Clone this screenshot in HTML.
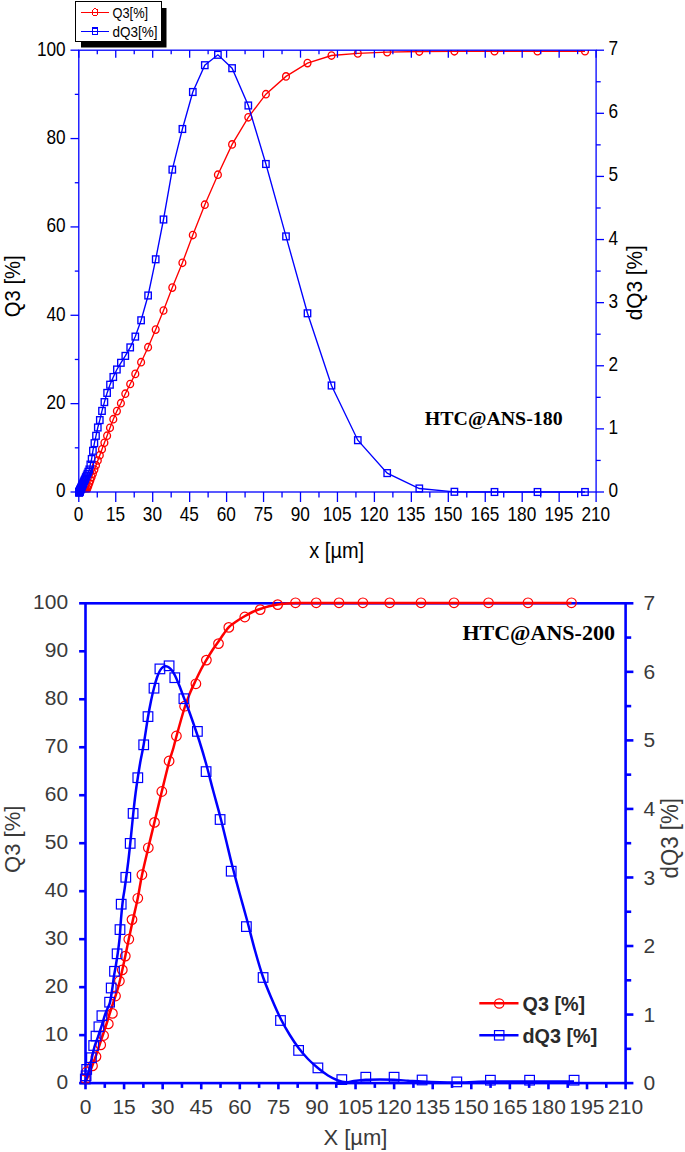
<!DOCTYPE html>
<html><head><meta charset="utf-8"><title>Chart</title>
<style>html,body{margin:0;padding:0;background:#fff;}svg{display:block;}</style></head>
<body>
<svg width="685" height="1152" viewBox="0 0 685 1152">
<rect width="685" height="1152" fill="#fff"/>
<defs><clipPath id="c1"><rect x="78.8" y="49.90" width="517.3000000000001" height="442.40"/></clipPath></defs>
<g clip-path="url(#c1)">
<polyline fill="none" stroke="#ff0000" stroke-width="1.35" points="79.1,492.3 79.2,492.3 79.2,492.3 79.2,492.3 79.3,492.3 79.3,492.3 79.4,492.3 79.4,492.3 79.5,492.2 79.6,492.2 79.7,492.2 79.8,492.2 79.9,492.2 80.0,492.2 80.1,492.2 80.2,492.2 80.4,492.2 80.5,492.2 80.7,492.2 80.9,492.1 81.2,492.1 81.4,492.1 81.7,492.1 82.0,492.1 82.3,492.0 82.7,492.0 83.1,492.0 83.5,491.8 84.0,491.7 84.6,491.5 85.2,491.3 85.8,491.1 86.6,490.5 87.4,488.3 88.3,485.9 89.3,483.3 90.3,480.4 91.6,477.1 92.9,473.6 94.4,469.6 96.0,465.3 97.8,460.5 99.8,455.2 102.0,449.3 104.4,442.8 107.1,435.7 110.0,427.8 113.3,419.2 116.9,411.1 120.9,403.2 125.3,393.7 130.2,384.0 135.3,373.9 141.1,362.2 148.1,347.2 155.7,329.6 163.5,310.5 172.3,287.6 182.4,262.8 192.8,235.0 204.8,204.7 217.9,174.7 232.1,144.4 248.3,117.3 265.9,94.2 286.0,76.4 307.5,63.1 331.5,55.5 357.8,53.4 387.2,52.2 419.3,51.5 454.4,51.3 494.5,51.2 537.5,51.2 585.0,51.2"/>
<ellipse cx="79.1" cy="492.3" rx="3.4" ry="3.7" fill="none" stroke="#ff0000" stroke-width="1.35"/>
<ellipse cx="79.2" cy="492.3" rx="3.4" ry="3.7" fill="none" stroke="#ff0000" stroke-width="1.35"/>
<ellipse cx="79.2" cy="492.3" rx="3.4" ry="3.7" fill="none" stroke="#ff0000" stroke-width="1.35"/>
<ellipse cx="79.2" cy="492.3" rx="3.4" ry="3.7" fill="none" stroke="#ff0000" stroke-width="1.35"/>
<ellipse cx="79.3" cy="492.3" rx="3.4" ry="3.7" fill="none" stroke="#ff0000" stroke-width="1.35"/>
<ellipse cx="79.3" cy="492.3" rx="3.4" ry="3.7" fill="none" stroke="#ff0000" stroke-width="1.35"/>
<ellipse cx="79.4" cy="492.3" rx="3.4" ry="3.7" fill="none" stroke="#ff0000" stroke-width="1.35"/>
<ellipse cx="79.4" cy="492.3" rx="3.4" ry="3.7" fill="none" stroke="#ff0000" stroke-width="1.35"/>
<ellipse cx="79.5" cy="492.2" rx="3.4" ry="3.7" fill="none" stroke="#ff0000" stroke-width="1.35"/>
<ellipse cx="79.6" cy="492.2" rx="3.4" ry="3.7" fill="none" stroke="#ff0000" stroke-width="1.35"/>
<ellipse cx="79.7" cy="492.2" rx="3.4" ry="3.7" fill="none" stroke="#ff0000" stroke-width="1.35"/>
<ellipse cx="79.8" cy="492.2" rx="3.4" ry="3.7" fill="none" stroke="#ff0000" stroke-width="1.35"/>
<ellipse cx="79.9" cy="492.2" rx="3.4" ry="3.7" fill="none" stroke="#ff0000" stroke-width="1.35"/>
<ellipse cx="80.0" cy="492.2" rx="3.4" ry="3.7" fill="none" stroke="#ff0000" stroke-width="1.35"/>
<ellipse cx="80.1" cy="492.2" rx="3.4" ry="3.7" fill="none" stroke="#ff0000" stroke-width="1.35"/>
<ellipse cx="80.2" cy="492.2" rx="3.4" ry="3.7" fill="none" stroke="#ff0000" stroke-width="1.35"/>
<ellipse cx="80.4" cy="492.2" rx="3.4" ry="3.7" fill="none" stroke="#ff0000" stroke-width="1.35"/>
<ellipse cx="80.5" cy="492.2" rx="3.4" ry="3.7" fill="none" stroke="#ff0000" stroke-width="1.35"/>
<ellipse cx="80.7" cy="492.2" rx="3.4" ry="3.7" fill="none" stroke="#ff0000" stroke-width="1.35"/>
<ellipse cx="80.9" cy="492.1" rx="3.4" ry="3.7" fill="none" stroke="#ff0000" stroke-width="1.35"/>
<ellipse cx="81.2" cy="492.1" rx="3.4" ry="3.7" fill="none" stroke="#ff0000" stroke-width="1.35"/>
<ellipse cx="81.4" cy="492.1" rx="3.4" ry="3.7" fill="none" stroke="#ff0000" stroke-width="1.35"/>
<ellipse cx="81.7" cy="492.1" rx="3.4" ry="3.7" fill="none" stroke="#ff0000" stroke-width="1.35"/>
<ellipse cx="82.0" cy="492.1" rx="3.4" ry="3.7" fill="none" stroke="#ff0000" stroke-width="1.35"/>
<ellipse cx="82.3" cy="492.0" rx="3.4" ry="3.7" fill="none" stroke="#ff0000" stroke-width="1.35"/>
<ellipse cx="82.7" cy="492.0" rx="3.4" ry="3.7" fill="none" stroke="#ff0000" stroke-width="1.35"/>
<ellipse cx="83.1" cy="492.0" rx="3.4" ry="3.7" fill="none" stroke="#ff0000" stroke-width="1.35"/>
<ellipse cx="83.5" cy="491.8" rx="3.4" ry="3.7" fill="none" stroke="#ff0000" stroke-width="1.35"/>
<ellipse cx="84.0" cy="491.7" rx="3.4" ry="3.7" fill="none" stroke="#ff0000" stroke-width="1.35"/>
<ellipse cx="84.6" cy="491.5" rx="3.4" ry="3.7" fill="none" stroke="#ff0000" stroke-width="1.35"/>
<ellipse cx="85.2" cy="491.3" rx="3.4" ry="3.7" fill="none" stroke="#ff0000" stroke-width="1.35"/>
<ellipse cx="85.8" cy="491.1" rx="3.4" ry="3.7" fill="none" stroke="#ff0000" stroke-width="1.35"/>
<ellipse cx="86.6" cy="490.5" rx="3.4" ry="3.7" fill="none" stroke="#ff0000" stroke-width="1.35"/>
<ellipse cx="87.4" cy="488.3" rx="3.4" ry="3.7" fill="none" stroke="#ff0000" stroke-width="1.35"/>
<ellipse cx="88.3" cy="485.9" rx="3.4" ry="3.7" fill="none" stroke="#ff0000" stroke-width="1.35"/>
<ellipse cx="89.3" cy="483.3" rx="3.4" ry="3.7" fill="none" stroke="#ff0000" stroke-width="1.35"/>
<ellipse cx="90.3" cy="480.4" rx="3.4" ry="3.7" fill="none" stroke="#ff0000" stroke-width="1.35"/>
<ellipse cx="91.6" cy="477.1" rx="3.4" ry="3.7" fill="none" stroke="#ff0000" stroke-width="1.35"/>
<ellipse cx="92.9" cy="473.6" rx="3.4" ry="3.7" fill="none" stroke="#ff0000" stroke-width="1.35"/>
<ellipse cx="94.4" cy="469.6" rx="3.4" ry="3.7" fill="none" stroke="#ff0000" stroke-width="1.35"/>
<ellipse cx="96.0" cy="465.3" rx="3.4" ry="3.7" fill="none" stroke="#ff0000" stroke-width="1.35"/>
<ellipse cx="97.8" cy="460.5" rx="3.4" ry="3.7" fill="none" stroke="#ff0000" stroke-width="1.35"/>
<ellipse cx="99.8" cy="455.2" rx="3.4" ry="3.7" fill="none" stroke="#ff0000" stroke-width="1.35"/>
<ellipse cx="102.0" cy="449.3" rx="3.4" ry="3.7" fill="none" stroke="#ff0000" stroke-width="1.35"/>
<ellipse cx="104.4" cy="442.8" rx="3.4" ry="3.7" fill="none" stroke="#ff0000" stroke-width="1.35"/>
<ellipse cx="107.1" cy="435.7" rx="3.4" ry="3.7" fill="none" stroke="#ff0000" stroke-width="1.35"/>
<ellipse cx="110.0" cy="427.8" rx="3.4" ry="3.7" fill="none" stroke="#ff0000" stroke-width="1.35"/>
<ellipse cx="113.3" cy="419.2" rx="3.4" ry="3.7" fill="none" stroke="#ff0000" stroke-width="1.35"/>
<ellipse cx="116.9" cy="411.1" rx="3.4" ry="3.7" fill="none" stroke="#ff0000" stroke-width="1.35"/>
<ellipse cx="120.9" cy="403.2" rx="3.4" ry="3.7" fill="none" stroke="#ff0000" stroke-width="1.35"/>
<ellipse cx="125.3" cy="393.7" rx="3.4" ry="3.7" fill="none" stroke="#ff0000" stroke-width="1.35"/>
<ellipse cx="130.2" cy="384.0" rx="3.4" ry="3.7" fill="none" stroke="#ff0000" stroke-width="1.35"/>
<ellipse cx="135.3" cy="373.9" rx="3.4" ry="3.7" fill="none" stroke="#ff0000" stroke-width="1.35"/>
<ellipse cx="141.1" cy="362.2" rx="3.4" ry="3.7" fill="none" stroke="#ff0000" stroke-width="1.35"/>
<ellipse cx="148.1" cy="347.2" rx="3.4" ry="3.7" fill="none" stroke="#ff0000" stroke-width="1.35"/>
<ellipse cx="155.7" cy="329.6" rx="3.4" ry="3.7" fill="none" stroke="#ff0000" stroke-width="1.35"/>
<ellipse cx="163.5" cy="310.5" rx="3.4" ry="3.7" fill="none" stroke="#ff0000" stroke-width="1.35"/>
<ellipse cx="172.3" cy="287.6" rx="3.4" ry="3.7" fill="none" stroke="#ff0000" stroke-width="1.35"/>
<ellipse cx="182.4" cy="262.8" rx="3.4" ry="3.7" fill="none" stroke="#ff0000" stroke-width="1.35"/>
<ellipse cx="192.8" cy="235.0" rx="3.4" ry="3.7" fill="none" stroke="#ff0000" stroke-width="1.35"/>
<ellipse cx="204.8" cy="204.7" rx="3.4" ry="3.7" fill="none" stroke="#ff0000" stroke-width="1.35"/>
<ellipse cx="217.9" cy="174.7" rx="3.4" ry="3.7" fill="none" stroke="#ff0000" stroke-width="1.35"/>
<ellipse cx="232.1" cy="144.4" rx="3.4" ry="3.7" fill="none" stroke="#ff0000" stroke-width="1.35"/>
<ellipse cx="248.3" cy="117.3" rx="3.4" ry="3.7" fill="none" stroke="#ff0000" stroke-width="1.35"/>
<ellipse cx="265.9" cy="94.2" rx="3.4" ry="3.7" fill="none" stroke="#ff0000" stroke-width="1.35"/>
<ellipse cx="286.0" cy="76.4" rx="3.4" ry="3.7" fill="none" stroke="#ff0000" stroke-width="1.35"/>
<ellipse cx="307.5" cy="63.1" rx="3.4" ry="3.7" fill="none" stroke="#ff0000" stroke-width="1.35"/>
<ellipse cx="331.5" cy="55.5" rx="3.4" ry="3.7" fill="none" stroke="#ff0000" stroke-width="1.35"/>
<ellipse cx="357.8" cy="53.4" rx="3.4" ry="3.7" fill="none" stroke="#ff0000" stroke-width="1.35"/>
<ellipse cx="387.2" cy="52.2" rx="3.4" ry="3.7" fill="none" stroke="#ff0000" stroke-width="1.35"/>
<ellipse cx="419.3" cy="51.5" rx="3.4" ry="3.7" fill="none" stroke="#ff0000" stroke-width="1.35"/>
<ellipse cx="454.4" cy="51.3" rx="3.4" ry="3.7" fill="none" stroke="#ff0000" stroke-width="1.35"/>
<ellipse cx="494.5" cy="51.2" rx="3.4" ry="3.7" fill="none" stroke="#ff0000" stroke-width="1.35"/>
<ellipse cx="537.5" cy="51.2" rx="3.4" ry="3.7" fill="none" stroke="#ff0000" stroke-width="1.35"/>
<ellipse cx="585.0" cy="51.2" rx="3.4" ry="3.7" fill="none" stroke="#ff0000" stroke-width="1.35"/>
</g><g>
<polyline fill="none" stroke="#0000ff" stroke-width="1.35" points="79.1,492.4 79.2,492.3 79.2,492.3 79.2,492.2 79.3,492.1 79.3,492.0 79.4,491.9 79.4,491.8 79.5,491.7 79.6,491.5 79.7,491.3 79.8,491.1 79.9,490.9 80.0,490.6 80.1,490.3 80.2,490.0 80.4,489.7 80.5,489.3 80.7,488.9 80.9,488.4 81.2,487.9 81.4,487.3 81.7,486.6 82.0,486.0 82.3,485.2 82.7,484.4 83.1,483.5 83.5,482.5 84.0,481.4 84.6,480.1 85.2,478.8 85.8,477.3 86.6,475.6 87.4,473.8 88.3,471.8 89.3,469.5 90.3,464.6 91.6,459.0 92.9,450.8 94.4,443.2 96.0,435.8 97.8,427.5 99.8,420.1 102.0,410.9 104.4,402.1 107.1,392.9 110.0,384.7 113.3,377.0 116.9,369.5 120.9,362.8 125.3,355.9 130.2,347.4 135.3,336.6 141.1,320.3 148.1,295.5 155.7,259.3 163.5,219.5 172.3,169.6 182.4,129.0 192.8,92.0 204.8,65.2 217.9,54.8 232.1,68.2 248.3,105.5 265.9,164.0 286.0,236.4 307.5,313.3 331.5,385.5 357.8,440.2 387.2,473.1 419.3,488.5 454.4,491.8 494.5,492.0 537.5,492.0 585.0,492.0"/>
<rect x="75.9" y="489.0" width="6.4" height="6.8" fill="none" stroke="#0000ff" stroke-width="1.35"/>
<rect x="76.0" y="488.9" width="6.4" height="6.8" fill="none" stroke="#0000ff" stroke-width="1.35"/>
<rect x="76.0" y="488.9" width="6.4" height="6.8" fill="none" stroke="#0000ff" stroke-width="1.35"/>
<rect x="76.0" y="488.8" width="6.4" height="6.8" fill="none" stroke="#0000ff" stroke-width="1.35"/>
<rect x="76.1" y="488.7" width="6.4" height="6.8" fill="none" stroke="#0000ff" stroke-width="1.35"/>
<rect x="76.1" y="488.6" width="6.4" height="6.8" fill="none" stroke="#0000ff" stroke-width="1.35"/>
<rect x="76.2" y="488.5" width="6.4" height="6.8" fill="none" stroke="#0000ff" stroke-width="1.35"/>
<rect x="76.2" y="488.4" width="6.4" height="6.8" fill="none" stroke="#0000ff" stroke-width="1.35"/>
<rect x="76.3" y="488.3" width="6.4" height="6.8" fill="none" stroke="#0000ff" stroke-width="1.35"/>
<rect x="76.4" y="488.1" width="6.4" height="6.8" fill="none" stroke="#0000ff" stroke-width="1.35"/>
<rect x="76.5" y="487.9" width="6.4" height="6.8" fill="none" stroke="#0000ff" stroke-width="1.35"/>
<rect x="76.6" y="487.7" width="6.4" height="6.8" fill="none" stroke="#0000ff" stroke-width="1.35"/>
<rect x="76.7" y="487.5" width="6.4" height="6.8" fill="none" stroke="#0000ff" stroke-width="1.35"/>
<rect x="76.8" y="487.2" width="6.4" height="6.8" fill="none" stroke="#0000ff" stroke-width="1.35"/>
<rect x="76.9" y="486.9" width="6.4" height="6.8" fill="none" stroke="#0000ff" stroke-width="1.35"/>
<rect x="77.0" y="486.6" width="6.4" height="6.8" fill="none" stroke="#0000ff" stroke-width="1.35"/>
<rect x="77.2" y="486.3" width="6.4" height="6.8" fill="none" stroke="#0000ff" stroke-width="1.35"/>
<rect x="77.3" y="485.9" width="6.4" height="6.8" fill="none" stroke="#0000ff" stroke-width="1.35"/>
<rect x="77.5" y="485.5" width="6.4" height="6.8" fill="none" stroke="#0000ff" stroke-width="1.35"/>
<rect x="77.7" y="485.0" width="6.4" height="6.8" fill="none" stroke="#0000ff" stroke-width="1.35"/>
<rect x="78.0" y="484.5" width="6.4" height="6.8" fill="none" stroke="#0000ff" stroke-width="1.35"/>
<rect x="78.2" y="483.9" width="6.4" height="6.8" fill="none" stroke="#0000ff" stroke-width="1.35"/>
<rect x="78.5" y="483.2" width="6.4" height="6.8" fill="none" stroke="#0000ff" stroke-width="1.35"/>
<rect x="78.8" y="482.6" width="6.4" height="6.8" fill="none" stroke="#0000ff" stroke-width="1.35"/>
<rect x="79.1" y="481.8" width="6.4" height="6.8" fill="none" stroke="#0000ff" stroke-width="1.35"/>
<rect x="79.5" y="481.0" width="6.4" height="6.8" fill="none" stroke="#0000ff" stroke-width="1.35"/>
<rect x="79.9" y="480.1" width="6.4" height="6.8" fill="none" stroke="#0000ff" stroke-width="1.35"/>
<rect x="80.3" y="479.1" width="6.4" height="6.8" fill="none" stroke="#0000ff" stroke-width="1.35"/>
<rect x="80.8" y="478.0" width="6.4" height="6.8" fill="none" stroke="#0000ff" stroke-width="1.35"/>
<rect x="81.4" y="476.7" width="6.4" height="6.8" fill="none" stroke="#0000ff" stroke-width="1.35"/>
<rect x="82.0" y="475.4" width="6.4" height="6.8" fill="none" stroke="#0000ff" stroke-width="1.35"/>
<rect x="82.6" y="473.9" width="6.4" height="6.8" fill="none" stroke="#0000ff" stroke-width="1.35"/>
<rect x="83.4" y="472.2" width="6.4" height="6.8" fill="none" stroke="#0000ff" stroke-width="1.35"/>
<rect x="84.2" y="470.4" width="6.4" height="6.8" fill="none" stroke="#0000ff" stroke-width="1.35"/>
<rect x="85.1" y="468.4" width="6.4" height="6.8" fill="none" stroke="#0000ff" stroke-width="1.35"/>
<rect x="86.1" y="466.1" width="6.4" height="6.8" fill="none" stroke="#0000ff" stroke-width="1.35"/>
<rect x="87.1" y="461.2" width="6.4" height="6.8" fill="none" stroke="#0000ff" stroke-width="1.35"/>
<rect x="88.4" y="455.6" width="6.4" height="6.8" fill="none" stroke="#0000ff" stroke-width="1.35"/>
<rect x="89.7" y="447.4" width="6.4" height="6.8" fill="none" stroke="#0000ff" stroke-width="1.35"/>
<rect x="91.2" y="439.8" width="6.4" height="6.8" fill="none" stroke="#0000ff" stroke-width="1.35"/>
<rect x="92.8" y="432.4" width="6.4" height="6.8" fill="none" stroke="#0000ff" stroke-width="1.35"/>
<rect x="94.6" y="424.1" width="6.4" height="6.8" fill="none" stroke="#0000ff" stroke-width="1.35"/>
<rect x="96.6" y="416.7" width="6.4" height="6.8" fill="none" stroke="#0000ff" stroke-width="1.35"/>
<rect x="98.8" y="407.5" width="6.4" height="6.8" fill="none" stroke="#0000ff" stroke-width="1.35"/>
<rect x="101.2" y="398.7" width="6.4" height="6.8" fill="none" stroke="#0000ff" stroke-width="1.35"/>
<rect x="103.9" y="389.5" width="6.4" height="6.8" fill="none" stroke="#0000ff" stroke-width="1.35"/>
<rect x="106.8" y="381.3" width="6.4" height="6.8" fill="none" stroke="#0000ff" stroke-width="1.35"/>
<rect x="110.1" y="373.6" width="6.4" height="6.8" fill="none" stroke="#0000ff" stroke-width="1.35"/>
<rect x="113.7" y="366.1" width="6.4" height="6.8" fill="none" stroke="#0000ff" stroke-width="1.35"/>
<rect x="117.7" y="359.4" width="6.4" height="6.8" fill="none" stroke="#0000ff" stroke-width="1.35"/>
<rect x="122.1" y="352.5" width="6.4" height="6.8" fill="none" stroke="#0000ff" stroke-width="1.35"/>
<rect x="127.0" y="344.0" width="6.4" height="6.8" fill="none" stroke="#0000ff" stroke-width="1.35"/>
<rect x="132.1" y="333.2" width="6.4" height="6.8" fill="none" stroke="#0000ff" stroke-width="1.35"/>
<rect x="137.9" y="316.9" width="6.4" height="6.8" fill="none" stroke="#0000ff" stroke-width="1.35"/>
<rect x="144.9" y="292.1" width="6.4" height="6.8" fill="none" stroke="#0000ff" stroke-width="1.35"/>
<rect x="152.5" y="255.9" width="6.4" height="6.8" fill="none" stroke="#0000ff" stroke-width="1.35"/>
<rect x="160.3" y="216.1" width="6.4" height="6.8" fill="none" stroke="#0000ff" stroke-width="1.35"/>
<rect x="169.1" y="166.2" width="6.4" height="6.8" fill="none" stroke="#0000ff" stroke-width="1.35"/>
<rect x="179.2" y="125.6" width="6.4" height="6.8" fill="none" stroke="#0000ff" stroke-width="1.35"/>
<rect x="189.6" y="88.6" width="6.4" height="6.8" fill="none" stroke="#0000ff" stroke-width="1.35"/>
<rect x="201.6" y="61.8" width="6.4" height="6.8" fill="none" stroke="#0000ff" stroke-width="1.35"/>
<rect x="214.7" y="51.4" width="6.4" height="6.8" fill="none" stroke="#0000ff" stroke-width="1.35"/>
<rect x="228.9" y="64.8" width="6.4" height="6.8" fill="none" stroke="#0000ff" stroke-width="1.35"/>
<rect x="245.1" y="102.1" width="6.4" height="6.8" fill="none" stroke="#0000ff" stroke-width="1.35"/>
<rect x="262.7" y="160.6" width="6.4" height="6.8" fill="none" stroke="#0000ff" stroke-width="1.35"/>
<rect x="282.8" y="233.0" width="6.4" height="6.8" fill="none" stroke="#0000ff" stroke-width="1.35"/>
<rect x="304.3" y="309.9" width="6.4" height="6.8" fill="none" stroke="#0000ff" stroke-width="1.35"/>
<rect x="328.3" y="382.1" width="6.4" height="6.8" fill="none" stroke="#0000ff" stroke-width="1.35"/>
<rect x="354.6" y="436.8" width="6.4" height="6.8" fill="none" stroke="#0000ff" stroke-width="1.35"/>
<rect x="384.0" y="469.7" width="6.4" height="6.8" fill="none" stroke="#0000ff" stroke-width="1.35"/>
<rect x="416.1" y="485.1" width="6.4" height="6.8" fill="none" stroke="#0000ff" stroke-width="1.35"/>
<rect x="451.2" y="488.4" width="6.4" height="6.8" fill="none" stroke="#0000ff" stroke-width="1.35"/>
<rect x="491.3" y="488.6" width="6.4" height="6.8" fill="none" stroke="#0000ff" stroke-width="1.35"/>
<rect x="534.3" y="488.6" width="6.4" height="6.8" fill="none" stroke="#0000ff" stroke-width="1.35"/>
<rect x="581.8" y="488.6" width="6.4" height="6.8" fill="none" stroke="#0000ff" stroke-width="1.35"/>
</g>
<g stroke="#0000ff" stroke-width="1.3" fill="none">
<rect x="78.8" y="50.2" width="517.3000000000001" height="441.8"/>
<line x1="78.80" y1="492.0" x2="78.80" y2="502.00"/>
<line x1="78.80" y1="50.2" x2="78.80" y2="57.70"/>
<line x1="97.28" y1="492.0" x2="97.28" y2="497.50"/>
<line x1="97.28" y1="50.2" x2="97.28" y2="54.20"/>
<line x1="115.75" y1="492.0" x2="115.75" y2="502.00"/>
<line x1="115.75" y1="50.2" x2="115.75" y2="57.70"/>
<line x1="134.23" y1="492.0" x2="134.23" y2="497.50"/>
<line x1="134.23" y1="50.2" x2="134.23" y2="54.20"/>
<line x1="152.70" y1="492.0" x2="152.70" y2="502.00"/>
<line x1="152.70" y1="50.2" x2="152.70" y2="57.70"/>
<line x1="171.18" y1="492.0" x2="171.18" y2="497.50"/>
<line x1="171.18" y1="50.2" x2="171.18" y2="54.20"/>
<line x1="189.65" y1="492.0" x2="189.65" y2="502.00"/>
<line x1="189.65" y1="50.2" x2="189.65" y2="57.70"/>
<line x1="208.12" y1="492.0" x2="208.12" y2="497.50"/>
<line x1="208.12" y1="50.2" x2="208.12" y2="54.20"/>
<line x1="226.60" y1="492.0" x2="226.60" y2="502.00"/>
<line x1="226.60" y1="50.2" x2="226.60" y2="57.70"/>
<line x1="245.08" y1="492.0" x2="245.08" y2="497.50"/>
<line x1="245.08" y1="50.2" x2="245.08" y2="54.20"/>
<line x1="263.55" y1="492.0" x2="263.55" y2="502.00"/>
<line x1="263.55" y1="50.2" x2="263.55" y2="57.70"/>
<line x1="282.03" y1="492.0" x2="282.03" y2="497.50"/>
<line x1="282.03" y1="50.2" x2="282.03" y2="54.20"/>
<line x1="300.50" y1="492.0" x2="300.50" y2="502.00"/>
<line x1="300.50" y1="50.2" x2="300.50" y2="57.70"/>
<line x1="318.98" y1="492.0" x2="318.98" y2="497.50"/>
<line x1="318.98" y1="50.2" x2="318.98" y2="54.20"/>
<line x1="337.45" y1="492.0" x2="337.45" y2="502.00"/>
<line x1="337.45" y1="50.2" x2="337.45" y2="57.70"/>
<line x1="355.93" y1="492.0" x2="355.93" y2="497.50"/>
<line x1="355.93" y1="50.2" x2="355.93" y2="54.20"/>
<line x1="374.40" y1="492.0" x2="374.40" y2="502.00"/>
<line x1="374.40" y1="50.2" x2="374.40" y2="57.70"/>
<line x1="392.88" y1="492.0" x2="392.88" y2="497.50"/>
<line x1="392.88" y1="50.2" x2="392.88" y2="54.20"/>
<line x1="411.35" y1="492.0" x2="411.35" y2="502.00"/>
<line x1="411.35" y1="50.2" x2="411.35" y2="57.70"/>
<line x1="429.83" y1="492.0" x2="429.83" y2="497.50"/>
<line x1="429.83" y1="50.2" x2="429.83" y2="54.20"/>
<line x1="448.30" y1="492.0" x2="448.30" y2="502.00"/>
<line x1="448.30" y1="50.2" x2="448.30" y2="57.70"/>
<line x1="466.78" y1="492.0" x2="466.78" y2="497.50"/>
<line x1="466.78" y1="50.2" x2="466.78" y2="54.20"/>
<line x1="485.25" y1="492.0" x2="485.25" y2="502.00"/>
<line x1="485.25" y1="50.2" x2="485.25" y2="57.70"/>
<line x1="503.73" y1="492.0" x2="503.73" y2="497.50"/>
<line x1="503.73" y1="50.2" x2="503.73" y2="54.20"/>
<line x1="522.20" y1="492.0" x2="522.20" y2="502.00"/>
<line x1="522.20" y1="50.2" x2="522.20" y2="57.70"/>
<line x1="540.68" y1="492.0" x2="540.68" y2="497.50"/>
<line x1="540.68" y1="50.2" x2="540.68" y2="54.20"/>
<line x1="559.15" y1="492.0" x2="559.15" y2="502.00"/>
<line x1="559.15" y1="50.2" x2="559.15" y2="57.70"/>
<line x1="577.62" y1="492.0" x2="577.62" y2="497.50"/>
<line x1="577.62" y1="50.2" x2="577.62" y2="54.20"/>
<line x1="596.10" y1="492.0" x2="596.10" y2="502.00"/>
<line x1="596.10" y1="50.2" x2="596.10" y2="57.70"/>
<line x1="78.8" y1="492.00" x2="70.50" y2="492.00"/>
<line x1="78.8" y1="447.82" x2="74.80" y2="447.82"/>
<line x1="78.8" y1="403.64" x2="70.50" y2="403.64"/>
<line x1="78.8" y1="359.46" x2="74.80" y2="359.46"/>
<line x1="78.8" y1="315.28" x2="70.50" y2="315.28"/>
<line x1="78.8" y1="271.10" x2="74.80" y2="271.10"/>
<line x1="78.8" y1="226.92" x2="70.50" y2="226.92"/>
<line x1="78.8" y1="182.74" x2="74.80" y2="182.74"/>
<line x1="78.8" y1="138.56" x2="70.50" y2="138.56"/>
<line x1="78.8" y1="94.38" x2="74.80" y2="94.38"/>
<line x1="78.8" y1="50.20" x2="70.50" y2="50.20"/>
<line x1="596.1" y1="492.00" x2="604.00" y2="492.00"/>
<line x1="596.1" y1="460.44" x2="600.70" y2="460.44"/>
<line x1="596.1" y1="428.89" x2="604.00" y2="428.89"/>
<line x1="596.1" y1="397.33" x2="600.70" y2="397.33"/>
<line x1="596.1" y1="365.77" x2="604.00" y2="365.77"/>
<line x1="596.1" y1="334.21" x2="600.70" y2="334.21"/>
<line x1="596.1" y1="302.66" x2="604.00" y2="302.66"/>
<line x1="596.1" y1="271.10" x2="600.70" y2="271.10"/>
<line x1="596.1" y1="239.54" x2="604.00" y2="239.54"/>
<line x1="596.1" y1="207.99" x2="600.70" y2="207.99"/>
<line x1="596.1" y1="176.43" x2="604.00" y2="176.43"/>
<line x1="596.1" y1="144.87" x2="600.70" y2="144.87"/>
<line x1="596.1" y1="113.31" x2="604.00" y2="113.31"/>
<line x1="596.1" y1="81.76" x2="600.70" y2="81.76"/>
<line x1="596.1" y1="50.20" x2="604.00" y2="50.20"/>
</g>
<text transform="translate(78.50,521.40) scale(0.8200,1.0000)" font-family="Liberation Sans, sans-serif" font-size="21" font-weight="normal" text-anchor="middle" fill="#000" >0</text>
<text transform="translate(115.45,521.40) scale(0.8200,1.0000)" font-family="Liberation Sans, sans-serif" font-size="21" font-weight="normal" text-anchor="middle" fill="#000" >15</text>
<text transform="translate(152.40,521.40) scale(0.8200,1.0000)" font-family="Liberation Sans, sans-serif" font-size="21" font-weight="normal" text-anchor="middle" fill="#000" >30</text>
<text transform="translate(189.35,521.40) scale(0.8200,1.0000)" font-family="Liberation Sans, sans-serif" font-size="21" font-weight="normal" text-anchor="middle" fill="#000" >45</text>
<text transform="translate(226.30,521.40) scale(0.8200,1.0000)" font-family="Liberation Sans, sans-serif" font-size="21" font-weight="normal" text-anchor="middle" fill="#000" >60</text>
<text transform="translate(263.25,521.40) scale(0.8200,1.0000)" font-family="Liberation Sans, sans-serif" font-size="21" font-weight="normal" text-anchor="middle" fill="#000" >75</text>
<text transform="translate(300.20,521.40) scale(0.8200,1.0000)" font-family="Liberation Sans, sans-serif" font-size="21" font-weight="normal" text-anchor="middle" fill="#000" >90</text>
<text transform="translate(337.15,521.40) scale(0.8200,1.0000)" font-family="Liberation Sans, sans-serif" font-size="21" font-weight="normal" text-anchor="middle" fill="#000" >105</text>
<text transform="translate(374.10,521.40) scale(0.8200,1.0000)" font-family="Liberation Sans, sans-serif" font-size="21" font-weight="normal" text-anchor="middle" fill="#000" >120</text>
<text transform="translate(411.05,521.40) scale(0.8200,1.0000)" font-family="Liberation Sans, sans-serif" font-size="21" font-weight="normal" text-anchor="middle" fill="#000" >135</text>
<text transform="translate(448.00,521.40) scale(0.8200,1.0000)" font-family="Liberation Sans, sans-serif" font-size="21" font-weight="normal" text-anchor="middle" fill="#000" >150</text>
<text transform="translate(484.95,521.40) scale(0.8200,1.0000)" font-family="Liberation Sans, sans-serif" font-size="21" font-weight="normal" text-anchor="middle" fill="#000" >165</text>
<text transform="translate(521.90,521.40) scale(0.8200,1.0000)" font-family="Liberation Sans, sans-serif" font-size="21" font-weight="normal" text-anchor="middle" fill="#000" >180</text>
<text transform="translate(558.85,521.40) scale(0.8200,1.0000)" font-family="Liberation Sans, sans-serif" font-size="21" font-weight="normal" text-anchor="middle" fill="#000" >195</text>
<text transform="translate(595.80,521.40) scale(0.8200,1.0000)" font-family="Liberation Sans, sans-serif" font-size="21" font-weight="normal" text-anchor="middle" fill="#000" >210</text>
<text transform="translate(65.60,497.30) scale(0.8200,1.0000)" font-family="Liberation Sans, sans-serif" font-size="21" font-weight="normal" text-anchor="end" fill="#000" >0</text>
<text transform="translate(65.60,408.94) scale(0.8200,1.0000)" font-family="Liberation Sans, sans-serif" font-size="21" font-weight="normal" text-anchor="end" fill="#000" >20</text>
<text transform="translate(65.60,320.58) scale(0.8200,1.0000)" font-family="Liberation Sans, sans-serif" font-size="21" font-weight="normal" text-anchor="end" fill="#000" >40</text>
<text transform="translate(65.60,232.22) scale(0.8200,1.0000)" font-family="Liberation Sans, sans-serif" font-size="21" font-weight="normal" text-anchor="end" fill="#000" >60</text>
<text transform="translate(65.60,143.86) scale(0.8200,1.0000)" font-family="Liberation Sans, sans-serif" font-size="21" font-weight="normal" text-anchor="end" fill="#000" >80</text>
<text transform="translate(65.60,55.50) scale(0.8200,1.0000)" font-family="Liberation Sans, sans-serif" font-size="21" font-weight="normal" text-anchor="end" fill="#000" >100</text>
<text transform="translate(608.40,497.00) scale(0.8200,1.0000)" font-family="Liberation Sans, sans-serif" font-size="21" font-weight="normal" text-anchor="start" fill="#000" >0</text>
<text transform="translate(608.40,433.89) scale(0.8200,1.0000)" font-family="Liberation Sans, sans-serif" font-size="21" font-weight="normal" text-anchor="start" fill="#000" >1</text>
<text transform="translate(608.40,370.77) scale(0.8200,1.0000)" font-family="Liberation Sans, sans-serif" font-size="21" font-weight="normal" text-anchor="start" fill="#000" >2</text>
<text transform="translate(608.40,307.66) scale(0.8200,1.0000)" font-family="Liberation Sans, sans-serif" font-size="21" font-weight="normal" text-anchor="start" fill="#000" >3</text>
<text transform="translate(608.40,244.54) scale(0.8200,1.0000)" font-family="Liberation Sans, sans-serif" font-size="21" font-weight="normal" text-anchor="start" fill="#000" >4</text>
<text transform="translate(608.40,181.43) scale(0.8200,1.0000)" font-family="Liberation Sans, sans-serif" font-size="21" font-weight="normal" text-anchor="start" fill="#000" >5</text>
<text transform="translate(608.40,118.31) scale(0.8200,1.0000)" font-family="Liberation Sans, sans-serif" font-size="21" font-weight="normal" text-anchor="start" fill="#000" >6</text>
<text transform="translate(608.40,55.20) scale(0.8200,1.0000)" font-family="Liberation Sans, sans-serif" font-size="21" font-weight="normal" text-anchor="start" fill="#000" >7</text>
<text transform="translate(336.70,558.20) scale(0.9100,1.0000)" font-family="Liberation Sans, sans-serif" font-size="22" font-weight="normal" text-anchor="middle" fill="#000" >x [µm]</text>
<text transform="translate(19.60,286.20) rotate(-90) scale(0.9200,0.9800)" font-family="Liberation Sans, sans-serif" font-size="22" font-weight="normal" text-anchor="middle" fill="#000" >Q3 [%]</text>
<text transform="translate(642.20,282.80) rotate(-90) scale(0.9450,1.0000)" font-family="Liberation Sans, sans-serif" font-size="22" font-weight="normal" text-anchor="middle" fill="#000" >dQ3 [%]</text>
<text transform="translate(424.80,424.50) scale(1.0640,1.0000)" font-family="Liberation Serif, sans-serif" font-size="18.7" font-weight="bold" text-anchor="start" fill="#000" >HTC@ANS-180</text>
<rect x="81" y="8" width="85.5" height="39.5" fill="#000"/>
<rect x="75.5" y="1.5" width="86" height="40" fill="#fff" stroke="#000" stroke-width="1"/>
<g shape-rendering="crispEdges" fill="none" stroke-width="1.1">
<line x1="81" y1="12.6" x2="108.8" y2="12.6" stroke="#ff0000"/><ellipse cx="95.1" cy="12.4" rx="2.6" ry="3.6" stroke="#ff0000"/>
<line x1="81" y1="31.2" x2="108.8" y2="31.2" stroke="#0000ff"/><rect x="92.3" y="28" width="5.6" height="6.4" stroke="#0000ff"/>
</g>
<text transform="translate(112.50,18.40) scale(0.9150,1.0000)" font-family="Liberation Sans, sans-serif" font-size="14" font-weight="normal" text-anchor="start" fill="#000" >Q3[%]</text>
<text transform="translate(112.50,37.10) scale(0.9650,1.0000)" font-family="Liberation Sans, sans-serif" font-size="14" font-weight="normal" text-anchor="start" fill="#000" >dQ3[%]</text>
<g stroke="#0000ff" stroke-width="2.6" fill="none">
<rect x="85.5" y="603.3" width="540.1" height="479.79999999999995"/>
<line x1="85.50" y1="1083.1" x2="85.50" y2="1089.30"/>
<line x1="104.79" y1="1083.1" x2="104.79" y2="1087.90"/>
<line x1="124.08" y1="1083.1" x2="124.08" y2="1089.30"/>
<line x1="143.37" y1="1083.1" x2="143.37" y2="1087.90"/>
<line x1="162.66" y1="1083.1" x2="162.66" y2="1089.30"/>
<line x1="181.95" y1="1083.1" x2="181.95" y2="1087.90"/>
<line x1="201.24" y1="1083.1" x2="201.24" y2="1089.30"/>
<line x1="220.53" y1="1083.1" x2="220.53" y2="1087.90"/>
<line x1="239.81" y1="1083.1" x2="239.81" y2="1089.30"/>
<line x1="259.10" y1="1083.1" x2="259.10" y2="1087.90"/>
<line x1="278.39" y1="1083.1" x2="278.39" y2="1089.30"/>
<line x1="297.68" y1="1083.1" x2="297.68" y2="1087.90"/>
<line x1="316.97" y1="1083.1" x2="316.97" y2="1089.30"/>
<line x1="336.26" y1="1083.1" x2="336.26" y2="1087.90"/>
<line x1="355.55" y1="1083.1" x2="355.55" y2="1089.30"/>
<line x1="374.84" y1="1083.1" x2="374.84" y2="1087.90"/>
<line x1="394.13" y1="1083.1" x2="394.13" y2="1089.30"/>
<line x1="413.42" y1="1083.1" x2="413.42" y2="1087.90"/>
<line x1="432.71" y1="1083.1" x2="432.71" y2="1089.30"/>
<line x1="452.00" y1="1083.1" x2="452.00" y2="1087.90"/>
<line x1="471.29" y1="1083.1" x2="471.29" y2="1089.30"/>
<line x1="490.57" y1="1083.1" x2="490.57" y2="1087.90"/>
<line x1="509.86" y1="1083.1" x2="509.86" y2="1089.30"/>
<line x1="529.15" y1="1083.1" x2="529.15" y2="1087.90"/>
<line x1="548.44" y1="1083.1" x2="548.44" y2="1089.30"/>
<line x1="567.73" y1="1083.1" x2="567.73" y2="1087.90"/>
<line x1="587.02" y1="1083.1" x2="587.02" y2="1089.30"/>
<line x1="606.31" y1="1083.1" x2="606.31" y2="1087.90"/>
<line x1="625.60" y1="1083.1" x2="625.60" y2="1089.30"/>
<line x1="85.5" y1="1083.10" x2="79.10" y2="1083.10"/>
<line x1="85.5" y1="1035.12" x2="79.10" y2="1035.12"/>
<line x1="85.5" y1="987.14" x2="79.10" y2="987.14"/>
<line x1="85.5" y1="939.16" x2="79.10" y2="939.16"/>
<line x1="85.5" y1="891.18" x2="79.10" y2="891.18"/>
<line x1="85.5" y1="843.20" x2="79.10" y2="843.20"/>
<line x1="85.5" y1="795.22" x2="79.10" y2="795.22"/>
<line x1="85.5" y1="747.24" x2="79.10" y2="747.24"/>
<line x1="85.5" y1="699.26" x2="79.10" y2="699.26"/>
<line x1="85.5" y1="651.28" x2="79.10" y2="651.28"/>
<line x1="85.5" y1="603.30" x2="79.10" y2="603.30"/>
<line x1="625.6" y1="1083.10" x2="633.40" y2="1083.10"/>
<line x1="625.6" y1="1048.83" x2="631.20" y2="1048.83"/>
<line x1="625.6" y1="1014.56" x2="633.40" y2="1014.56"/>
<line x1="625.6" y1="980.29" x2="631.20" y2="980.29"/>
<line x1="625.6" y1="946.01" x2="633.40" y2="946.01"/>
<line x1="625.6" y1="911.74" x2="631.20" y2="911.74"/>
<line x1="625.6" y1="877.47" x2="633.40" y2="877.47"/>
<line x1="625.6" y1="843.20" x2="631.20" y2="843.20"/>
<line x1="625.6" y1="808.93" x2="633.40" y2="808.93"/>
<line x1="625.6" y1="774.66" x2="631.20" y2="774.66"/>
<line x1="625.6" y1="740.39" x2="633.40" y2="740.39"/>
<line x1="625.6" y1="706.11" x2="631.20" y2="706.11"/>
<line x1="625.6" y1="671.84" x2="633.40" y2="671.84"/>
<line x1="625.6" y1="637.57" x2="631.20" y2="637.57"/>
<line x1="625.6" y1="603.30" x2="633.40" y2="603.30"/>
</g>
<path d="M85.80,1082.00 C86.25,1080.83 87.47,1077.58 88.50,1075.00 C89.53,1072.42 90.83,1069.50 92.00,1066.50 C93.17,1063.50 94.25,1060.58 95.50,1057.00 C96.75,1053.42 98.25,1048.75 99.50,1045.00 C100.75,1041.25 101.78,1038.17 103.00,1034.50 C104.22,1030.83 105.55,1026.92 106.80,1023.00 C108.05,1019.08 109.22,1015.00 110.50,1011.00 C111.78,1007.00 113.13,1003.25 114.50,999.00 C115.87,994.75 117.40,990.33 118.70,985.50 C120.00,980.67 121.20,974.92 122.30,970.00 C123.40,965.08 124.22,961.17 125.30,956.00 C126.38,950.83 127.52,945.08 128.80,939.00 C130.08,932.92 131.50,926.33 133.00,919.50 C134.50,912.67 136.32,905.33 137.80,898.00 C139.28,890.67 140.15,883.87 141.90,875.50 C143.65,867.13 146.20,856.72 148.30,847.80 C150.40,838.88 152.25,831.38 154.50,822.00 C156.75,812.62 159.37,801.50 161.80,791.50 C164.23,781.50 167.17,769.25 169.10,762.00 C171.03,754.75 172.12,752.50 173.40,748.00 C174.68,743.50 174.95,741.67 176.80,735.00 C178.65,728.33 182.30,715.00 184.50,708.00 C186.70,701.00 188.10,697.67 190.00,693.00 C191.90,688.33 194.07,683.92 195.90,680.00 C197.73,676.08 199.25,672.83 201.00,669.50 C202.75,666.17 204.48,663.25 206.40,660.00 C208.32,656.75 210.48,653.08 212.50,650.00 C214.52,646.92 216.58,644.25 218.50,641.50 C220.42,638.75 222.25,635.92 224.00,633.50 C225.75,631.08 226.83,629.08 229.00,627.00 C231.17,624.92 234.33,622.83 237.00,621.00 C239.67,619.17 242.42,617.50 245.00,616.00 C247.58,614.50 249.97,613.17 252.50,612.00 C255.03,610.83 257.45,609.95 260.20,609.00 C262.95,608.05 266.08,607.03 269.00,606.30 C271.92,605.57 274.87,605.07 277.70,604.60 C280.53,604.13 283.03,603.77 286.00,603.50 C288.97,603.23 290.50,603.08 295.50,603.00 C300.50,602.92 308.75,603.00 316.00,603.00 C323.25,603.00 326.83,603.00 339.00,603.00 C351.17,603.00 369.83,603.00 389.00,603.00 C408.17,603.00 430.83,603.00 454.00,603.00 C477.17,603.00 508.42,603.00 528.00,603.00 C547.58,603.00 564.25,603.00 571.50,603.00" fill="none" stroke="#ff0000" stroke-width="2.5" stroke-linejoin="round"/>
<circle cx="85.5" cy="1078.8" r="4.8" fill="none" stroke="#ff0000" stroke-width="1.2"/>
<circle cx="86.7" cy="1071.8" r="4.8" fill="none" stroke="#ff0000" stroke-width="1.2"/>
<circle cx="92.5" cy="1065.9" r="4.8" fill="none" stroke="#ff0000" stroke-width="1.2"/>
<circle cx="96.0" cy="1056.6" r="4.8" fill="none" stroke="#ff0000" stroke-width="1.2"/>
<circle cx="100.7" cy="1044.9" r="4.8" fill="none" stroke="#ff0000" stroke-width="1.2"/>
<circle cx="103.6" cy="1035.5" r="4.8" fill="none" stroke="#ff0000" stroke-width="1.2"/>
<circle cx="108.3" cy="1023.9" r="4.8" fill="none" stroke="#ff0000" stroke-width="1.2"/>
<circle cx="112.4" cy="1013.4" r="4.8" fill="none" stroke="#ff0000" stroke-width="1.2"/>
<circle cx="115.5" cy="996.0" r="4.8" fill="none" stroke="#ff0000" stroke-width="1.2"/>
<circle cx="119.4" cy="981.0" r="4.8" fill="none" stroke="#ff0000" stroke-width="1.2"/>
<circle cx="122.3" cy="969.9" r="4.8" fill="none" stroke="#ff0000" stroke-width="1.2"/>
<circle cx="125.3" cy="956.1" r="4.8" fill="none" stroke="#ff0000" stroke-width="1.2"/>
<circle cx="128.8" cy="939.2" r="4.8" fill="none" stroke="#ff0000" stroke-width="1.2"/>
<circle cx="132.0" cy="919.6" r="4.8" fill="none" stroke="#ff0000" stroke-width="1.2"/>
<circle cx="137.8" cy="898.3" r="4.8" fill="none" stroke="#ff0000" stroke-width="1.2"/>
<circle cx="141.9" cy="874.7" r="4.8" fill="none" stroke="#ff0000" stroke-width="1.2"/>
<circle cx="148.3" cy="847.8" r="4.8" fill="none" stroke="#ff0000" stroke-width="1.2"/>
<circle cx="154.5" cy="822.4" r="4.8" fill="none" stroke="#ff0000" stroke-width="1.2"/>
<circle cx="161.8" cy="791.5" r="4.8" fill="none" stroke="#ff0000" stroke-width="1.2"/>
<circle cx="169.1" cy="761.0" r="4.8" fill="none" stroke="#ff0000" stroke-width="1.2"/>
<circle cx="176.4" cy="736.0" r="4.8" fill="none" stroke="#ff0000" stroke-width="1.2"/>
<circle cx="184.6" cy="706.2" r="4.8" fill="none" stroke="#ff0000" stroke-width="1.2"/>
<circle cx="195.9" cy="683.8" r="4.8" fill="none" stroke="#ff0000" stroke-width="1.2"/>
<circle cx="206.4" cy="660.1" r="4.8" fill="none" stroke="#ff0000" stroke-width="1.2"/>
<circle cx="218.5" cy="643.6" r="4.8" fill="none" stroke="#ff0000" stroke-width="1.2"/>
<circle cx="228.8" cy="627.4" r="4.8" fill="none" stroke="#ff0000" stroke-width="1.2"/>
<circle cx="244.8" cy="617.0" r="4.8" fill="none" stroke="#ff0000" stroke-width="1.2"/>
<circle cx="260.2" cy="609.6" r="4.8" fill="none" stroke="#ff0000" stroke-width="1.2"/>
<circle cx="277.7" cy="604.6" r="4.8" fill="none" stroke="#ff0000" stroke-width="1.2"/>
<circle cx="295.5" cy="602.8" r="4.8" fill="none" stroke="#ff0000" stroke-width="1.2"/>
<circle cx="316.2" cy="602.8" r="4.8" fill="none" stroke="#ff0000" stroke-width="1.2"/>
<circle cx="339.0" cy="602.8" r="4.8" fill="none" stroke="#ff0000" stroke-width="1.2"/>
<circle cx="362.9" cy="602.8" r="4.8" fill="none" stroke="#ff0000" stroke-width="1.2"/>
<circle cx="389.7" cy="602.8" r="4.8" fill="none" stroke="#ff0000" stroke-width="1.2"/>
<circle cx="421.0" cy="602.8" r="4.8" fill="none" stroke="#ff0000" stroke-width="1.2"/>
<circle cx="454.0" cy="602.8" r="4.8" fill="none" stroke="#ff0000" stroke-width="1.2"/>
<circle cx="488.5" cy="602.8" r="4.8" fill="none" stroke="#ff0000" stroke-width="1.2"/>
<circle cx="528.0" cy="602.8" r="4.8" fill="none" stroke="#ff0000" stroke-width="1.2"/>
<circle cx="571.5" cy="602.8" r="4.8" fill="none" stroke="#ff0000" stroke-width="1.2"/>
<path d="M84.80,1082.30 C85.10,1081.58 85.93,1079.88 86.60,1078.00 C87.27,1076.12 87.97,1074.17 88.80,1071.00 C89.63,1067.83 90.67,1063.00 91.60,1059.00 C92.53,1055.00 93.35,1050.65 94.40,1047.00 C95.45,1043.35 96.73,1040.48 97.90,1037.10 C99.07,1033.72 100.25,1030.32 101.40,1026.70 C102.55,1023.08 103.78,1018.43 104.80,1015.40 C105.82,1012.37 106.63,1010.67 107.50,1008.50 C108.37,1006.33 109.18,1005.82 110.00,1002.40 C110.82,998.98 111.75,992.33 112.40,988.00 C113.05,983.67 113.37,979.90 113.90,976.40 C114.43,972.90 114.97,970.82 115.60,967.00 C116.23,963.18 117.03,958.30 117.70,953.50 C118.37,948.70 119.05,943.93 119.60,938.20 C120.15,932.47 120.45,925.47 121.00,919.10 C121.55,912.73 122.30,905.02 122.90,900.00 C123.50,894.98 123.72,895.33 124.60,889.00 C125.48,882.67 127.17,870.50 128.20,862.00 C129.23,853.50 129.95,846.17 130.80,838.00 C131.65,829.83 132.50,820.50 133.30,813.00 C134.10,805.50 134.83,799.00 135.60,793.00 C136.37,787.00 137.08,782.33 137.90,777.00 C138.72,771.67 139.55,766.33 140.50,761.00 C141.45,755.67 142.35,752.33 143.60,745.00 C144.85,737.67 146.77,724.33 148.00,717.00 C149.23,709.67 150.00,705.83 151.00,701.00 C152.00,696.17 153.00,691.92 154.00,688.00 C155.00,684.08 156.00,680.42 157.00,677.50 C158.00,674.58 159.00,672.25 160.00,670.50 C161.00,668.75 162.00,667.70 163.00,667.00 C164.00,666.30 165.00,666.22 166.00,666.30 C167.00,666.38 168.00,666.80 169.00,667.50 C170.00,668.20 171.00,669.17 172.00,670.50 C173.00,671.83 173.75,672.92 175.00,675.50 C176.25,678.08 178.00,682.25 179.50,686.00 C181.00,689.75 182.42,693.83 184.00,698.00 C185.58,702.17 187.40,706.67 189.00,711.00 C190.60,715.33 191.85,718.92 193.60,724.00 C195.35,729.08 197.45,735.00 199.50,741.50 C201.55,748.00 203.65,754.92 205.90,763.00 C208.15,771.08 210.65,781.22 213.00,790.00 C215.35,798.78 217.83,807.37 220.00,815.70 C222.17,824.03 224.03,831.95 226.00,840.00 C227.97,848.05 229.55,855.17 231.80,864.00 C234.05,872.83 236.97,883.67 239.50,893.00 C242.03,902.33 244.42,910.42 247.00,920.00 C249.58,929.58 252.33,941.00 255.00,950.50 C257.67,960.00 260.17,968.83 263.00,977.00 C265.83,985.17 269.03,992.50 272.00,999.50 C274.97,1006.50 277.88,1013.17 280.80,1019.00 C283.72,1024.83 286.53,1029.67 289.50,1034.50 C292.47,1039.33 295.52,1043.92 298.60,1048.00 C301.68,1052.08 304.78,1055.67 308.00,1059.00 C311.22,1062.33 314.57,1065.25 317.90,1068.00 C321.23,1070.75 324.65,1073.42 328.00,1075.50 C331.35,1077.58 335.00,1079.37 338.00,1080.50 C341.00,1081.63 343.33,1082.22 346.00,1082.30 C348.67,1082.38 350.70,1081.42 354.00,1081.00 C357.30,1080.58 361.47,1080.05 365.80,1079.80 C370.13,1079.55 375.30,1079.50 380.00,1079.50 C384.70,1079.50 389.33,1079.60 394.00,1079.80 C398.67,1080.00 403.33,1080.40 408.00,1080.70 C412.67,1081.00 416.67,1081.33 422.00,1081.60 C427.33,1081.87 434.20,1082.15 440.00,1082.30 C445.80,1082.45 451.13,1082.55 456.80,1082.50 C462.47,1082.45 468.47,1082.17 474.00,1082.00 C479.53,1081.83 480.67,1081.58 490.00,1081.50 C499.33,1081.42 516.00,1081.50 530.00,1081.50 C544.00,1081.50 566.67,1081.50 574.00,1081.50" fill="none" stroke="#0000ff" stroke-width="2.5" stroke-linejoin="round"/>
<rect x="80.5" y="1074.2" width="9.6" height="9.6" fill="none" stroke="#0000ff" stroke-width="1.2"/>
<rect x="81.3" y="1071.0" width="9.6" height="9.6" fill="none" stroke="#0000ff" stroke-width="1.2"/>
<rect x="81.9" y="1064.6" width="9.6" height="9.6" fill="none" stroke="#0000ff" stroke-width="1.2"/>
<rect x="86.6" y="1052.9" width="9.6" height="9.6" fill="none" stroke="#0000ff" stroke-width="1.2"/>
<rect x="88.9" y="1040.7" width="9.6" height="9.6" fill="none" stroke="#0000ff" stroke-width="1.2"/>
<rect x="91.2" y="1031.3" width="9.6" height="9.6" fill="none" stroke="#0000ff" stroke-width="1.2"/>
<rect x="94.1" y="1022.0" width="9.6" height="9.6" fill="none" stroke="#0000ff" stroke-width="1.2"/>
<rect x="97.1" y="1010.9" width="9.6" height="9.6" fill="none" stroke="#0000ff" stroke-width="1.2"/>
<rect x="104.8" y="997.4" width="9.6" height="9.6" fill="none" stroke="#0000ff" stroke-width="1.2"/>
<rect x="106.4" y="983.2" width="9.6" height="9.6" fill="none" stroke="#0000ff" stroke-width="1.2"/>
<rect x="109.7" y="966.5" width="9.6" height="9.6" fill="none" stroke="#0000ff" stroke-width="1.2"/>
<rect x="112.3" y="949.0" width="9.6" height="9.6" fill="none" stroke="#0000ff" stroke-width="1.2"/>
<rect x="115.2" y="924.8" width="9.6" height="9.6" fill="none" stroke="#0000ff" stroke-width="1.2"/>
<rect x="116.4" y="899.4" width="9.6" height="9.6" fill="none" stroke="#0000ff" stroke-width="1.2"/>
<rect x="121.0" y="872.5" width="9.6" height="9.6" fill="none" stroke="#0000ff" stroke-width="1.2"/>
<rect x="125.4" y="838.6" width="9.6" height="9.6" fill="none" stroke="#0000ff" stroke-width="1.2"/>
<rect x="128.3" y="808.6" width="9.6" height="9.6" fill="none" stroke="#0000ff" stroke-width="1.2"/>
<rect x="133.0" y="772.9" width="9.6" height="9.6" fill="none" stroke="#0000ff" stroke-width="1.2"/>
<rect x="138.9" y="740.0" width="9.6" height="9.6" fill="none" stroke="#0000ff" stroke-width="1.2"/>
<rect x="143.2" y="711.8" width="9.6" height="9.6" fill="none" stroke="#0000ff" stroke-width="1.2"/>
<rect x="149.2" y="683.4" width="9.6" height="9.6" fill="none" stroke="#0000ff" stroke-width="1.2"/>
<rect x="155.1" y="664.1" width="9.6" height="9.6" fill="none" stroke="#0000ff" stroke-width="1.2"/>
<rect x="164.3" y="661.0" width="9.6" height="9.6" fill="none" stroke="#0000ff" stroke-width="1.2"/>
<rect x="170.0" y="672.9" width="9.6" height="9.6" fill="none" stroke="#0000ff" stroke-width="1.2"/>
<rect x="179.1" y="693.9" width="9.6" height="9.6" fill="none" stroke="#0000ff" stroke-width="1.2"/>
<rect x="192.6" y="726.6" width="9.6" height="9.6" fill="none" stroke="#0000ff" stroke-width="1.2"/>
<rect x="201.3" y="766.8" width="9.6" height="9.6" fill="none" stroke="#0000ff" stroke-width="1.2"/>
<rect x="215.3" y="814.7" width="9.6" height="9.6" fill="none" stroke="#0000ff" stroke-width="1.2"/>
<rect x="226.4" y="866.4" width="9.6" height="9.6" fill="none" stroke="#0000ff" stroke-width="1.2"/>
<rect x="241.6" y="921.8" width="9.6" height="9.6" fill="none" stroke="#0000ff" stroke-width="1.2"/>
<rect x="258.3" y="972.7" width="9.6" height="9.6" fill="none" stroke="#0000ff" stroke-width="1.2"/>
<rect x="275.7" y="1015.7" width="9.6" height="9.6" fill="none" stroke="#0000ff" stroke-width="1.2"/>
<rect x="293.8" y="1045.6" width="9.6" height="9.6" fill="none" stroke="#0000ff" stroke-width="1.2"/>
<rect x="313.1" y="1063.1" width="9.6" height="9.6" fill="none" stroke="#0000ff" stroke-width="1.2"/>
<rect x="337.0" y="1074.8" width="9.6" height="9.6" fill="none" stroke="#0000ff" stroke-width="1.2"/>
<rect x="361.0" y="1072.4" width="9.6" height="9.6" fill="none" stroke="#0000ff" stroke-width="1.2"/>
<rect x="389.3" y="1072.4" width="9.6" height="9.6" fill="none" stroke="#0000ff" stroke-width="1.2"/>
<rect x="417.3" y="1075.2" width="9.6" height="9.6" fill="none" stroke="#0000ff" stroke-width="1.2"/>
<rect x="452.0" y="1077.1" width="9.6" height="9.6" fill="none" stroke="#0000ff" stroke-width="1.2"/>
<rect x="485.6" y="1075.4" width="9.6" height="9.6" fill="none" stroke="#0000ff" stroke-width="1.2"/>
<rect x="524.8" y="1075.4" width="9.6" height="9.6" fill="none" stroke="#0000ff" stroke-width="1.2"/>
<rect x="569.3" y="1075.4" width="9.6" height="9.6" fill="none" stroke="#0000ff" stroke-width="1.2"/>
<text transform="translate(85.50,1114.20) scale(1.0600,1.0000)" font-family="Liberation Sans, sans-serif" font-size="19.8" font-weight="normal" text-anchor="middle" fill="#3a3a3a" >0</text>
<text transform="translate(124.08,1114.20) scale(1.0600,1.0000)" font-family="Liberation Sans, sans-serif" font-size="19.8" font-weight="normal" text-anchor="middle" fill="#3a3a3a" >15</text>
<text transform="translate(162.66,1114.20) scale(1.0600,1.0000)" font-family="Liberation Sans, sans-serif" font-size="19.8" font-weight="normal" text-anchor="middle" fill="#3a3a3a" >30</text>
<text transform="translate(201.24,1114.20) scale(1.0600,1.0000)" font-family="Liberation Sans, sans-serif" font-size="19.8" font-weight="normal" text-anchor="middle" fill="#3a3a3a" >45</text>
<text transform="translate(239.81,1114.20) scale(1.0600,1.0000)" font-family="Liberation Sans, sans-serif" font-size="19.8" font-weight="normal" text-anchor="middle" fill="#3a3a3a" >60</text>
<text transform="translate(278.39,1114.20) scale(1.0600,1.0000)" font-family="Liberation Sans, sans-serif" font-size="19.8" font-weight="normal" text-anchor="middle" fill="#3a3a3a" >75</text>
<text transform="translate(316.97,1114.20) scale(1.0600,1.0000)" font-family="Liberation Sans, sans-serif" font-size="19.8" font-weight="normal" text-anchor="middle" fill="#3a3a3a" >90</text>
<text transform="translate(355.55,1114.20) scale(1.0600,1.0000)" font-family="Liberation Sans, sans-serif" font-size="19.8" font-weight="normal" text-anchor="middle" fill="#3a3a3a" >105</text>
<text transform="translate(394.13,1114.20) scale(1.0600,1.0000)" font-family="Liberation Sans, sans-serif" font-size="19.8" font-weight="normal" text-anchor="middle" fill="#3a3a3a" >120</text>
<text transform="translate(432.71,1114.20) scale(1.0600,1.0000)" font-family="Liberation Sans, sans-serif" font-size="19.8" font-weight="normal" text-anchor="middle" fill="#3a3a3a" >135</text>
<text transform="translate(471.29,1114.20) scale(1.0600,1.0000)" font-family="Liberation Sans, sans-serif" font-size="19.8" font-weight="normal" text-anchor="middle" fill="#3a3a3a" >150</text>
<text transform="translate(509.86,1114.20) scale(1.0600,1.0000)" font-family="Liberation Sans, sans-serif" font-size="19.8" font-weight="normal" text-anchor="middle" fill="#3a3a3a" >165</text>
<text transform="translate(548.44,1114.20) scale(1.0600,1.0000)" font-family="Liberation Sans, sans-serif" font-size="19.8" font-weight="normal" text-anchor="middle" fill="#3a3a3a" >180</text>
<text transform="translate(587.02,1114.20) scale(1.0600,1.0000)" font-family="Liberation Sans, sans-serif" font-size="19.8" font-weight="normal" text-anchor="middle" fill="#3a3a3a" >195</text>
<text transform="translate(625.60,1114.20) scale(1.0600,1.0000)" font-family="Liberation Sans, sans-serif" font-size="19.8" font-weight="normal" text-anchor="middle" fill="#3a3a3a" >210</text>
<text transform="translate(68.10,1089.10) scale(1.0600,1.0000)" font-family="Liberation Sans, sans-serif" font-size="19.8" font-weight="normal" text-anchor="end" fill="#3a3a3a" >0</text>
<text transform="translate(68.10,1041.12) scale(1.0600,1.0000)" font-family="Liberation Sans, sans-serif" font-size="19.8" font-weight="normal" text-anchor="end" fill="#3a3a3a" >10</text>
<text transform="translate(68.10,993.14) scale(1.0600,1.0000)" font-family="Liberation Sans, sans-serif" font-size="19.8" font-weight="normal" text-anchor="end" fill="#3a3a3a" >20</text>
<text transform="translate(68.10,945.16) scale(1.0600,1.0000)" font-family="Liberation Sans, sans-serif" font-size="19.8" font-weight="normal" text-anchor="end" fill="#3a3a3a" >30</text>
<text transform="translate(68.10,897.18) scale(1.0600,1.0000)" font-family="Liberation Sans, sans-serif" font-size="19.8" font-weight="normal" text-anchor="end" fill="#3a3a3a" >40</text>
<text transform="translate(68.10,849.20) scale(1.0600,1.0000)" font-family="Liberation Sans, sans-serif" font-size="19.8" font-weight="normal" text-anchor="end" fill="#3a3a3a" >50</text>
<text transform="translate(68.10,801.22) scale(1.0600,1.0000)" font-family="Liberation Sans, sans-serif" font-size="19.8" font-weight="normal" text-anchor="end" fill="#3a3a3a" >60</text>
<text transform="translate(68.10,753.24) scale(1.0600,1.0000)" font-family="Liberation Sans, sans-serif" font-size="19.8" font-weight="normal" text-anchor="end" fill="#3a3a3a" >70</text>
<text transform="translate(68.10,705.26) scale(1.0600,1.0000)" font-family="Liberation Sans, sans-serif" font-size="19.8" font-weight="normal" text-anchor="end" fill="#3a3a3a" >80</text>
<text transform="translate(68.10,657.28) scale(1.0600,1.0000)" font-family="Liberation Sans, sans-serif" font-size="19.8" font-weight="normal" text-anchor="end" fill="#3a3a3a" >90</text>
<text transform="translate(68.10,609.30) scale(1.0600,1.0000)" font-family="Liberation Sans, sans-serif" font-size="19.8" font-weight="normal" text-anchor="end" fill="#3a3a3a" >100</text>
<text transform="translate(643.60,1090.20) scale(1.0600,1.0000)" font-family="Liberation Sans, sans-serif" font-size="19.8" font-weight="normal" text-anchor="start" fill="#3a3a3a" >0</text>
<text transform="translate(643.60,1021.66) scale(1.0600,1.0000)" font-family="Liberation Sans, sans-serif" font-size="19.8" font-weight="normal" text-anchor="start" fill="#3a3a3a" >1</text>
<text transform="translate(643.60,953.11) scale(1.0600,1.0000)" font-family="Liberation Sans, sans-serif" font-size="19.8" font-weight="normal" text-anchor="start" fill="#3a3a3a" >2</text>
<text transform="translate(643.60,884.57) scale(1.0600,1.0000)" font-family="Liberation Sans, sans-serif" font-size="19.8" font-weight="normal" text-anchor="start" fill="#3a3a3a" >3</text>
<text transform="translate(643.60,816.03) scale(1.0600,1.0000)" font-family="Liberation Sans, sans-serif" font-size="19.8" font-weight="normal" text-anchor="start" fill="#3a3a3a" >4</text>
<text transform="translate(643.60,747.49) scale(1.0600,1.0000)" font-family="Liberation Sans, sans-serif" font-size="19.8" font-weight="normal" text-anchor="start" fill="#3a3a3a" >5</text>
<text transform="translate(643.60,678.94) scale(1.0600,1.0000)" font-family="Liberation Sans, sans-serif" font-size="19.8" font-weight="normal" text-anchor="start" fill="#3a3a3a" >6</text>
<text transform="translate(643.60,610.40) scale(1.0600,1.0000)" font-family="Liberation Sans, sans-serif" font-size="19.8" font-weight="normal" text-anchor="start" fill="#3a3a3a" >7</text>
<text transform="translate(355.40,1145.30)" font-family="Liberation Sans, sans-serif" font-size="22" font-weight="normal" text-anchor="middle" fill="#3a3a3a" >X [µm]</text>
<text transform="translate(19.60,839.30) rotate(-90) scale(1.0000,1.0400)" font-family="Liberation Sans, sans-serif" font-size="22" font-weight="normal" text-anchor="middle" fill="#3a3a3a" >Q3 [%]</text>
<text transform="translate(678.40,838.30) rotate(-90) scale(1.0100,1.0600)" font-family="Liberation Sans, sans-serif" font-size="22" font-weight="normal" text-anchor="middle" fill="#3a3a3a" >dQ3 [%]</text>
<text transform="translate(462.40,640.30) scale(1.0740,1.0000)" font-family="Liberation Serif, sans-serif" font-size="20.5" font-weight="bold" text-anchor="start" fill="#000" >HTC@ANS-200</text>
<line x1="479.3" y1="1003.3" x2="518.5" y2="1003.3" stroke="#ff0000" stroke-width="2.5"/><circle cx="499.2" cy="1003.5" r="4.7" fill="none" stroke="#ff0000" stroke-width="1.2"/>
<line x1="479.3" y1="1035.3" x2="518.5" y2="1035.3" stroke="#0000ff" stroke-width="2.5"/><rect x="494.5" y="1030.6" width="9.4" height="9.4" fill="none" stroke="#0000ff" stroke-width="1.2"/>
<text transform="translate(522.50,1010.90)" font-family="Liberation Sans, sans-serif" font-size="19.8" font-weight="bold" text-anchor="start" fill="#2a2a2a" >Q3 [%]</text>
<text transform="translate(522.50,1042.70)" font-family="Liberation Sans, sans-serif" font-size="19.8" font-weight="bold" text-anchor="start" fill="#2a2a2a" >dQ3 [%]</text>
</svg>
</body></html>
